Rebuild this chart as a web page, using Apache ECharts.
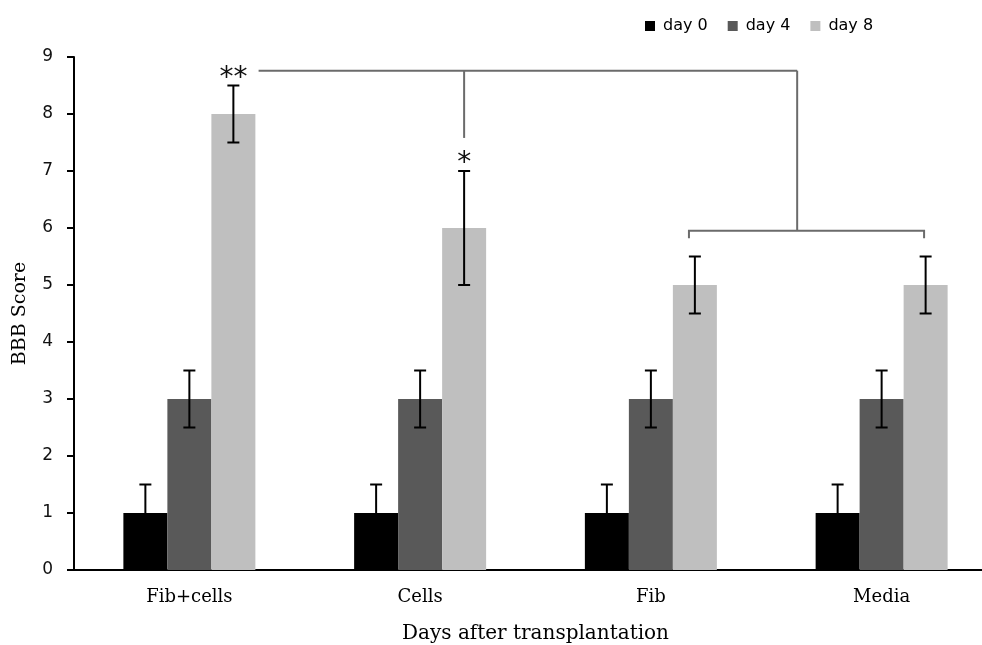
<!DOCTYPE html>
<html>
<head>
<meta charset="utf-8">
<title>BBB Score</title>
<script src="https://cdn.jsdelivr.net/npm/echarts@6/dist/echarts.min.js"></script>
<style>
  html, body { margin: 0; padding: 0; background: #fff; }
  #chart { width: 982px; height: 645px; }
</style>
</head>
<body>
<div id="chart"></div>
<script>
// Groups along the x axis
const groups = ['Fib+cells', 'Cells', 'Fib', 'Media'];
const seriesNames = ['day 0', 'day 4', 'day 8'];

// Mean BBB scores per group
const day0 = [1, 1, 1, 1];
const day4 = [3, 3, 3, 3];
const day8 = [8, 6, 5, 5];

// Error bar half-widths
const err0 = [0.5, 0.5, 0.5, 0.5];
const err4 = [0.5, 0.5, 0.5, 0.5];
const err8 = [0.5, 1, 0.5, 0.5];

const yTicks = [0, 1, 2, 3, 4, 5, 6, 7, 8, 9];

// Significance markers over the day 8 bars
const sigGroups = [0, 1];
const sigText = ['**', '*'];
const sigLevel = [8.62, 7.13];

// Comparison bracket levels (score units)
const bracketTop = 8.76;
const bracketLow = 5.95;

const colors = ['#000000', '#595959', '#bfbfbf'];
const BAR_W = 44;

const chart = echarts.init(document.getElementById('chart'), null, { renderer: 'canvas' });

const means = [day0, day4, day8];
const errs = [err0, err4, err8];

// rows: [groupIndex, mean, halfWidth, seriesIndex]
const errRows = [];
means.forEach((arr, s) => arr.forEach((v, g) => errRows.push([g, v, errs[s][g], s])));

function renderErr(params, api) {
  const g = api.value(0), v = api.value(1), e = api.value(2), s = api.value(3);
  const dx = (s - 1) * BAR_W;
  const top = api.coord([g, v + e]);
  const bot = api.coord([g, v - e]);
  const x = top[0] + dx;
  const cap = 6;
  const style = { stroke: '#000', lineWidth: 2 };
  return {
    type: 'group',
    children: [
      { type: 'line', shape: { x1: x, y1: top[1], x2: x, y2: bot[1] }, style },
      { type: 'line', shape: { x1: x - cap, y1: top[1], x2: x + cap, y2: top[1] }, style },
      { type: 'line', shape: { x1: x - cap, y1: bot[1], x2: x + cap, y2: bot[1] }, style }
    ]
  };
}

function renderNotes(params, api) {
  const cw = api.size([1, 0])[0];
  const c = (g, v) => api.coord([g, v]);
  const lineStyle = { stroke: '#6b6b6b', lineWidth: 2 };
  const children = [];

  const yTop = c(0, bracketTop)[1];
  const yLow = c(0, bracketLow)[1];
  const xStart = c(0, 0)[0] + 0.30 * cw;
  const xCells = c(1, 0)[0] + BAR_W;
  const xJoin = c(2, 0)[0] + 0.634 * cw;
  const xFib = c(2, 0)[0] + 0.165 * cw;
  const xMedia = c(3, 0)[0] + 0.184 * cw;
  const yCellsEnd = c(1, 7.58)[1];
  const yTickEnd = c(2, bracketLow - 0.13)[1];

  children.push({ type: 'line', shape: { x1: xStart, y1: yTop, x2: xJoin, y2: yTop }, style: lineStyle });
  children.push({ type: 'line', shape: { x1: xCells, y1: yTop, x2: xCells, y2: yCellsEnd }, style: lineStyle });
  children.push({ type: 'line', shape: { x1: xJoin, y1: yTop, x2: xJoin, y2: yLow }, style: lineStyle });
  children.push({ type: 'polyline', shape: { points: [[xFib, yTickEnd], [xFib, yLow], [xMedia, yLow], [xMedia, yTickEnd]] }, style: Object.assign({ fill: null }, lineStyle) });

  sigGroups.forEach((g, i) => {
    const p = c(g, sigLevel[i]);
    children.push({
      type: 'text',
      style: {
        text: sigText[i], x: p[0] + BAR_W, y: p[1],
        align: 'center', verticalAlign: 'middle',
        font: '28px "DejaVu Sans"', fill: '#111'
      }
    });
  });
  return { type: 'group', children };
}

const option = {
  animation: false,
  backgroundColor: '#ffffff',
  legend: {
    data: seriesNames,
    left: 640, top: 13,
    icon: 'rect', itemWidth: 10, itemHeight: 10, itemGap: 20,
    textStyle: { fontFamily: 'DejaVu Sans', fontSize: 16, color: '#000', padding: [0, 0, 0, 3] }
  },
  grid: { left: 74, right: -15, top: 57, bottom: 75, containLabel: false, outerBoundsMode: 'none' },
  xAxis: {
    type: 'category',
    data: groups,
    name: 'Days after transplantation',
    nameLocation: 'middle',
    nameGap: 54,
    nameTextStyle: { fontFamily: 'DejaVu Serif', fontSize: 20, color: '#000' },
    axisLine: { lineStyle: { color: '#000', width: 2 } },
    axisTick: { show: false },
    axisLabel: {
      margin: 18, fontFamily: 'DejaVu Serif', fontSize: 18, color: '#000',
      formatter: (v) => v
    }
  },
  yAxis: {
    type: 'value',
    min: yTicks[0], max: yTicks[yTicks.length - 1], interval: 1,
    name: 'BBB Score',
    nameLocation: 'middle',
    nameGap: 44,
    nameRotate: 90,
    nameTextStyle: { fontFamily: 'DejaVu Serif', fontSize: 19, color: '#000' },
    axisLine: { show: true, lineStyle: { color: '#000', width: 2 } },
    axisTick: { show: true, inside: false, length: 7, lineStyle: { color: '#000', width: 2 } },
    axisLabel: { margin: 21, fontFamily: 'DejaVu Sans', fontSize: 17, color: '#111' },
    splitLine: { show: false }
  },
  series: [
    ...seriesNames.map((name, s) => ({
      name, type: 'bar', data: means[s],
      barWidth: BAR_W, barGap: '0%',
      itemStyle: { color: colors[s] }
    })),
    {
      type: 'custom', name: 'err', data: errRows,
      renderItem: renderErr, z: 5, silent: true,
      encode: { x: 0, y: 1 }
    },
    {
      type: 'custom', name: 'notes', data: [[0, 0]],
      renderItem: renderNotes, z: 6, silent: true,
      encode: { x: 0, y: 1 }
    }
  ]
};

chart.setOption(option);
</script>
</body>
</html>
